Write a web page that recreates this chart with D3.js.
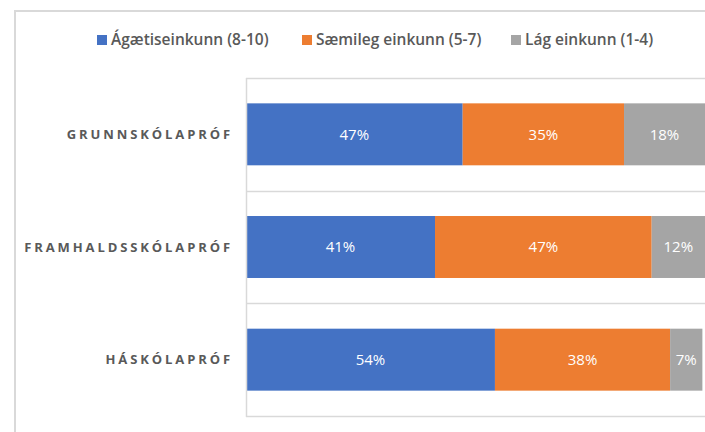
<!DOCTYPE html>
<html>
<head>
<meta charset="utf-8">
<script src="https://cdn.jsdelivr.net/npm/d3@7"></script>
<style>
  html, body { margin: 0; padding: 0; background: #fff; }
  svg { display: block; }
</style>
</head>
<body>
<svg id="chart" width="705" height="432"></svg>
<script>
const categories = ["GRUNNSKÓLAPRÓF", "FRAMHALDSSKÓLAPRÓF", "HÁSKÓLAPRÓF"];
const seriesNames = ["Ágætiseinkunn (8-10)", "Sæmileg einkunn (5-7)", "Lág einkunn (1-4)"];
const highValues = [47, 41, 54];
const midValues = [35, 47, 38];
const lowValues = [18, 12, 7];
const seriesColors = ["#4472C4", "#ED7D31", "#A5A5A5"];

const svg = d3.select("#chart");
const W = 705, H = 432;
const plot = { left: 246, right: 705, top: 78, bottom: 416 };

// outer chart border
svg.append("rect")
  .attr("x", 15).attr("y", 11)
  .attr("width", W + 20).attr("height", H + 20)
  .attr("fill", "#fff").attr("stroke", "#d9d9d9").attr("stroke-width", 2);

const table = categories.map((c, i) => ({
  cat: c,
  [seriesNames[0]]: highValues[i],
  [seriesNames[1]]: midValues[i],
  [seriesNames[2]]: lowValues[i]
}));
const stack = d3.stack().keys(seriesNames)(table);

const x = d3.scaleLinear().domain([0, 100]).range([plot.left, plot.right + 2]);
const y = d3.scaleBand().domain(categories).range([plot.top, plot.bottom])
  .paddingInner(0.45).paddingOuter(0.225);
const color = d3.scaleOrdinal().domain(seriesNames).range(seriesColors);

// gridlines between categories
const step = y.step();
const gridYs = d3.range(categories.length + 1).map(i => plot.top + i * step);
svg.append("g").selectAll("line").data(gridYs).join("line")
  .attr("x1", plot.left).attr("x2", W)
  .attr("y1", d => Math.round(d) + 0.5).attr("y2", d => Math.round(d) + 0.5)
  .attr("stroke", "#d9d9d9").attr("stroke-width", 1.5);

// bars
const groups = svg.append("g").selectAll("g").data(stack).join("g")
  .attr("fill", d => color(d.key));
groups.selectAll("rect").data(d => d).join("rect")
  .attr("x", d => x(d[0]))
  .attr("width", d => x(d[1]) - x(d[0]))
  .attr("y", d => y(d.data.cat))
  .attr("height", y.bandwidth());

// data labels
groups.selectAll("text").data(d => d).join("text")
  .attr("x", d => (x(d[0]) + Math.min(x(d[1]), W)) / 2)
  .attr("y", d => y(d.data.cat) + y.bandwidth() / 2)
  .attr("dy", "0.35em")
  .attr("text-anchor", "middle")
  .attr("fill", "#ffffff")
  .attr("font-family", "'Open Sans', sans-serif")
  .attr("font-size", 15)
  .text(d => (d[1] - d[0]) + "%");

// vertical category axis line
svg.append("line")
  .attr("x1", plot.left + 0.5).attr("x2", plot.left + 0.5)
  .attr("y1", plot.top).attr("y2", plot.bottom + 1)
  .attr("stroke", "#d9d9d9").attr("stroke-width", 1.5);

// category labels
const yAxis = d3.axisLeft(y).tickSize(0).tickPadding(0);
const ax = svg.append("g").attr("transform", `translate(${plot.left - 13},0)`).call(yAxis);
ax.select(".domain").remove();
ax.selectAll("text")
  .attr("fill", "#595959")
  .attr("font-family", "'Open Sans', sans-serif")
  .attr("font-weight", "bold")
  .attr("font-size", 13)
  .attr("letter-spacing", "2.9px")
  .attr("dy", "0.35em");

// legend
const legendX = [97, 302, 511];
const lg = svg.append("g").selectAll("g").data(seriesNames).join("g")
  .attr("transform", (d, i) => `translate(${legendX[i]},40)`);
lg.append("rect").attr("x", 0).attr("y", -5).attr("width", 10).attr("height", 10)
  .attr("fill", d => color(d));
lg.append("text").attr("x", 14).attr("dy", "0.35em")
  .attr("fill", "#595959")
  .attr("font-family", "'Open Sans', sans-serif")
  .attr("font-weight", 600)
  .attr("font-size", 15.5)
  .text(d => d);
</script>
</body>
</html>
